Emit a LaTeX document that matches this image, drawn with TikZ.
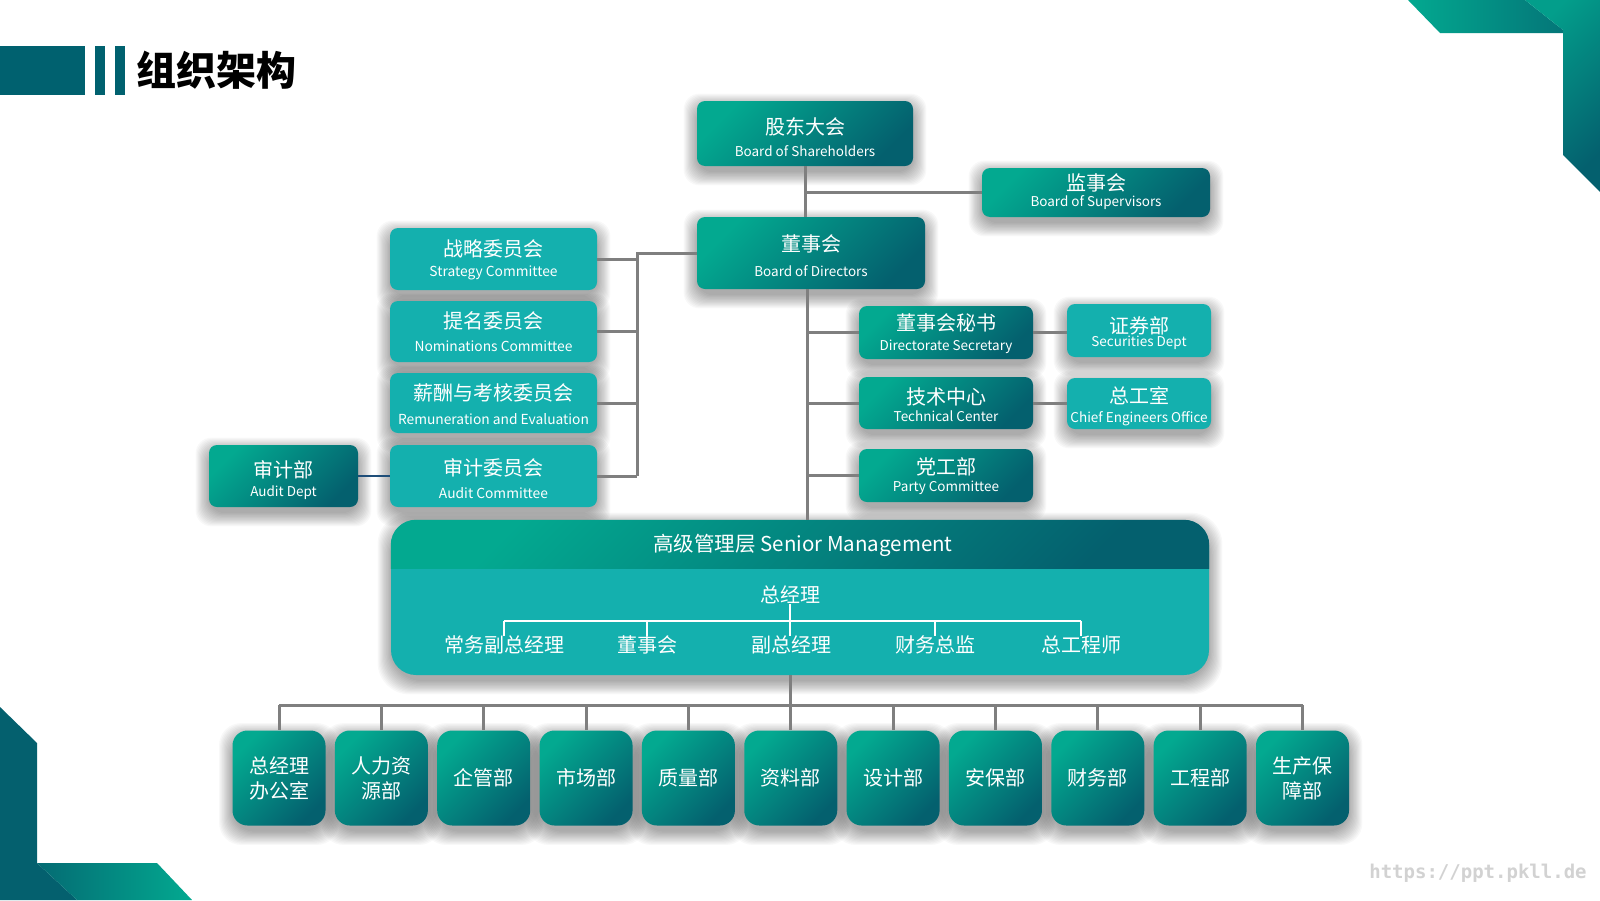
\documentclass[tikz,border=0pt]{standalone}
\usepackage{fontspec}
\setmainfont{Noto Sans CJK SC}
\newfontfamily\wmfont{DejaVu Sans Mono}[BoldFont={DejaVu Sans Mono Bold}]
\usetikzlibrary{calc}
\pgfdeclarelayer{back}
\pgfdeclarelayer{shadowlayer}
\pgfsetlayers{back,shadowlayer,main}
\definecolor{bar}{HTML}{00616F}
\definecolor{gA}{HTML}{03A990}
\definecolor{gB}{HTML}{04606E}
\definecolor{tq}{HTML}{14B0AE}
\definecolor{lineg}{HTML}{7F7F7F}
\definecolor{blk}{HTML}{1F4E79}
\tikzset{
 darkbox/.style={rounded corners=8pt, top color=gA, bottom color=gB, shading angle=45, inner sep=0pt},
 lightbox/.style={rounded corners=8pt, fill=tq, inner sep=0pt},
 tilebox/.style={darkbox, rounded corners=15pt, minimum width=93pt, minimum height=95pt, text=white, align=center, font=\fontsize{20}{25}\selectfont},
 zh/.style={text=white, inner sep=0pt, font=\fontsize{20}{24}\selectfont},
 en/.style={text=white, inner sep=0pt, font=\fontsize{13.5}{16}\selectfont},
 enc/.style={text=white, inner sep=0pt, font=\fontsize{13.8}{17}\selectfont},
 conn/.style={draw=lineg, line width=3pt},
 wline/.style={draw=white, line width=2.5pt},
 shadowring/.style={fill=black, opacity=0.028},
}
% #1 en-style, #2 box name, #3 zh offset, #4 en offset, #5 zh, #6 en
\newcommand\boxtext[6][en]{%
 \node[zh] (#2-zh) at ($(#2.north)+(0,#3)$) {#5};
 \node[#1] (#2-en) at ($(#2.north)+(0,#4)$) {#6};}
% soft shadow: #1 node name, #2 corner radius
\newcommand\softshadow[2]{%
 \begin{pgfonlayer}{shadowlayer}
 \foreach \k in {0,...,12}{%
  \fill[shadowring, rounded corners=#2] ($(#1.north west)+(-1.1*\k,-1.1*\k+6)$) rectangle ($(#1.south east)+(1.1*\k,1.1*\k+6)$);}
 \end{pgfonlayer}}
\begin{document}
\begin{tikzpicture}[x=1pt,y=-1pt]
\useasboundingbox (0,0) rectangle (1600,900);
\begin{pgfonlayer}{back}
\fill[white] (0,0) rectangle (1600,900);
\end{pgfonlayer}
% corner decorations
\shade[left color=gA, right color=gB!70!gA] (1408,0) -- (1440,33) -- (1563,33) -- (1563,30) -- (1525,0) -- cycle;
\shade[top color=gA!85!gB, middle color=gB, bottom color=gB, shading angle=45] (1525,0) -- (1600,0) -- (1600,192) -- (1563,155) -- (1563,30) -- cycle;
\fill[gB] (0,707) -- (37,743) -- (37,863) -- (77,900) -- (0,900) -- cycle;
\shade[left color=gB!85!gA, right color=gA] (37,863) -- (157,863) -- (192,900) -- (77,900) -- cycle;
% title
\fill[bar] (0,46) rectangle (85,95);
\fill[bar] (95,46) rectangle (105,95);
\fill[bar] (115,46) rectangle (125,95);
\node[font=\bfseries\fontsize{40}{40}\selectfont, inner sep=0pt] (title) at (216,70) {组织架构};
% boxes
\node[darkbox, minimum width=216pt, minimum height=65pt] (gd) at (805,133.5) {};
\node[darkbox, minimum width=228pt, minimum height=49pt] (js) at (1096,192.5) {};
\node[darkbox, minimum width=228pt, minimum height=72pt] (dsh) at (811,253) {};
\node[lightbox, minimum width=207pt, minimum height=62pt] (zl) at (493.5,259) {};
\node[lightbox, minimum width=207pt, minimum height=61pt] (tm) at (493.5,331.5) {};
\node[lightbox, minimum width=207pt, minimum height=60pt] (xc) at (493.5,403) {};
\node[lightbox, minimum width=207pt, minimum height=62pt] (sj) at (493.5,476) {};
\node[darkbox, minimum width=149pt, minimum height=62pt] (sjb) at (283.5,476) {};
\node[darkbox, minimum width=174pt, minimum height=53pt] (ms) at (946,332.5) {};
\node[lightbox, minimum width=144pt, minimum height=53pt] (zqb) at (1139,330.5) {};
\node[darkbox, minimum width=174pt, minimum height=52pt] (jsz) at (946,403) {};
\node[lightbox, minimum width=144pt, minimum height=51pt] (zgs) at (1139,403.5) {};
\node[darkbox, minimum width=174pt, minimum height=53pt] (dgb) at (946,475.5) {};
\foreach \b in {gd,js,dsh,zl,tm,xc,sj,sjb,ms,zqb,jsz,zgs,dgb} {\softshadow{\b}{16pt}}
\boxtext{gd}{26}{50}{股东大会}{Board of Shareholders}
\boxtext{js}{15}{35}{监事会}{Board of Supervisors}
\boxtext{dsh}{27}{54}{董事会}{Board of Directors}
\boxtext[enc]{zl}{21}{45}{战略委员会}{Strategy Committee}
\boxtext[enc]{tm}{20}{45}{提名委员会}{Nominations Committee}
\boxtext[enc]{xc}{20}{46}{薪酬与考核委员会}{Remuneration and Evaluation}
\boxtext[enc]{sj}{23}{48}{审计委员会}{Audit Committee}
\boxtext{sjb}{25}{48}{审计部}{Audit Dept}
\boxtext{ms}{17}{41}{董事会秘书}{Directorate Secretary}
\boxtext{zqb}{22}{39}{证券部}{Securities Dept}
\boxtext{jsz}{20}{39}{技术中心}{Technical Center}
\boxtext{zgs}{18}{41}{总工室}{Chief Engineers Office}
\boxtext{dgb}{18}{39}{党工部}{Party Committee}
% senior management
\node[rounded corners=25pt, fill=tq, minimum width=818pt, minimum height=155pt, inner sep=0pt] (sm) at (800,597.5) {};
\softshadow{sm}{32pt}
\begin{scope}
\clip[rounded corners=25pt] (sm.north west) rectangle (sm.south east);
\shade[top color=gA, bottom color=gB, shading angle=45] (sm.north west) rectangle ($(sm.north east)+(0,49)$);
\end{scope}
\node[text=white, inner sep=0pt, font=\fontsize{20.5}{24}\selectfont] (smh) at (803,545) {高级管理层 Senior Management};
\node[zh] (gm) at (790,595) {总经理};
\node[zh] (s1) at (504,645) {常务副总经理};
\node[zh] (s2) at (647,645) {董事会};
\node[zh] (s3) at (791,645) {副总经理};
\node[zh] (s4) at (935,645) {财务总监};
\node[zh] (s5) at (1081,645) {总工程师};
\coordinate (hy) at (0,621);
\draw[wline] (s1.north |- hy) -- (s5.north |- hy);
\draw[wline] (gm.south) -- (gm.south |- s3.north);
\foreach \s in {s1,s2,s4,s5} \draw[wline] (\s.north |- hy) -- (\s.north);
% bottom tiles
\foreach \i/\t in {1/{总经理\\办公室},2/{人力资\\源部},3/企管部,4/市场部,5/质量部,6/资料部,7/设计部,8/安保部,9/财务部,10/工程部,11/{生产保\\障部}}
 {\node[tilebox] (b\i) at ({279+(\i-1)*102.35},778) {\t};
  \softshadow{b\i}{22pt}}
% connectors
\draw[conn] (gd.south) -- (gd.south |- dsh.north);
\draw[conn] (gd.south |- js.west) -- (js.west);
\coordinate (busx) at (637,0);
\draw[conn] (dsh.west) -- (dsh.west -| busx) -- (sj.east -| busx);
\foreach \c in {zl,tm,xc,sj} \draw[conn] (\c.east) -- (\c.east -| busx);
\draw[blk, line width=2.5pt] (sjb.east) -- (sj.west);
\coordinate (mv) at (807,0);
\draw[conn] (dsh.south -| mv) -- (sm.north -| mv);
\foreach \c in {ms,jsz,dgb} \draw[conn] (\c.west -| mv) -- (\c.west);
\draw[conn] (ms.east) -- (ms.east -| zqb.west);
\draw[conn] (jsz.east) -- (jsz.east -| zgs.west);
\coordinate (bus) at (790,705);
\draw[conn] (sm.south -| bus) -- (bus);
\draw[conn] (b1.north |- bus) -- (b11.north |- bus);
\foreach \i in {1,...,11} \draw[conn] (b\i.north |- bus) -- (b\i.north);
% watermark
\node[text=gray!35, font=\wmfont\bfseries\fontsize{19}{20}\selectfont, inner sep=0pt] (wm) at (1478,873) {https://ppt.pkll.de};
\end{tikzpicture}
\end{document}
